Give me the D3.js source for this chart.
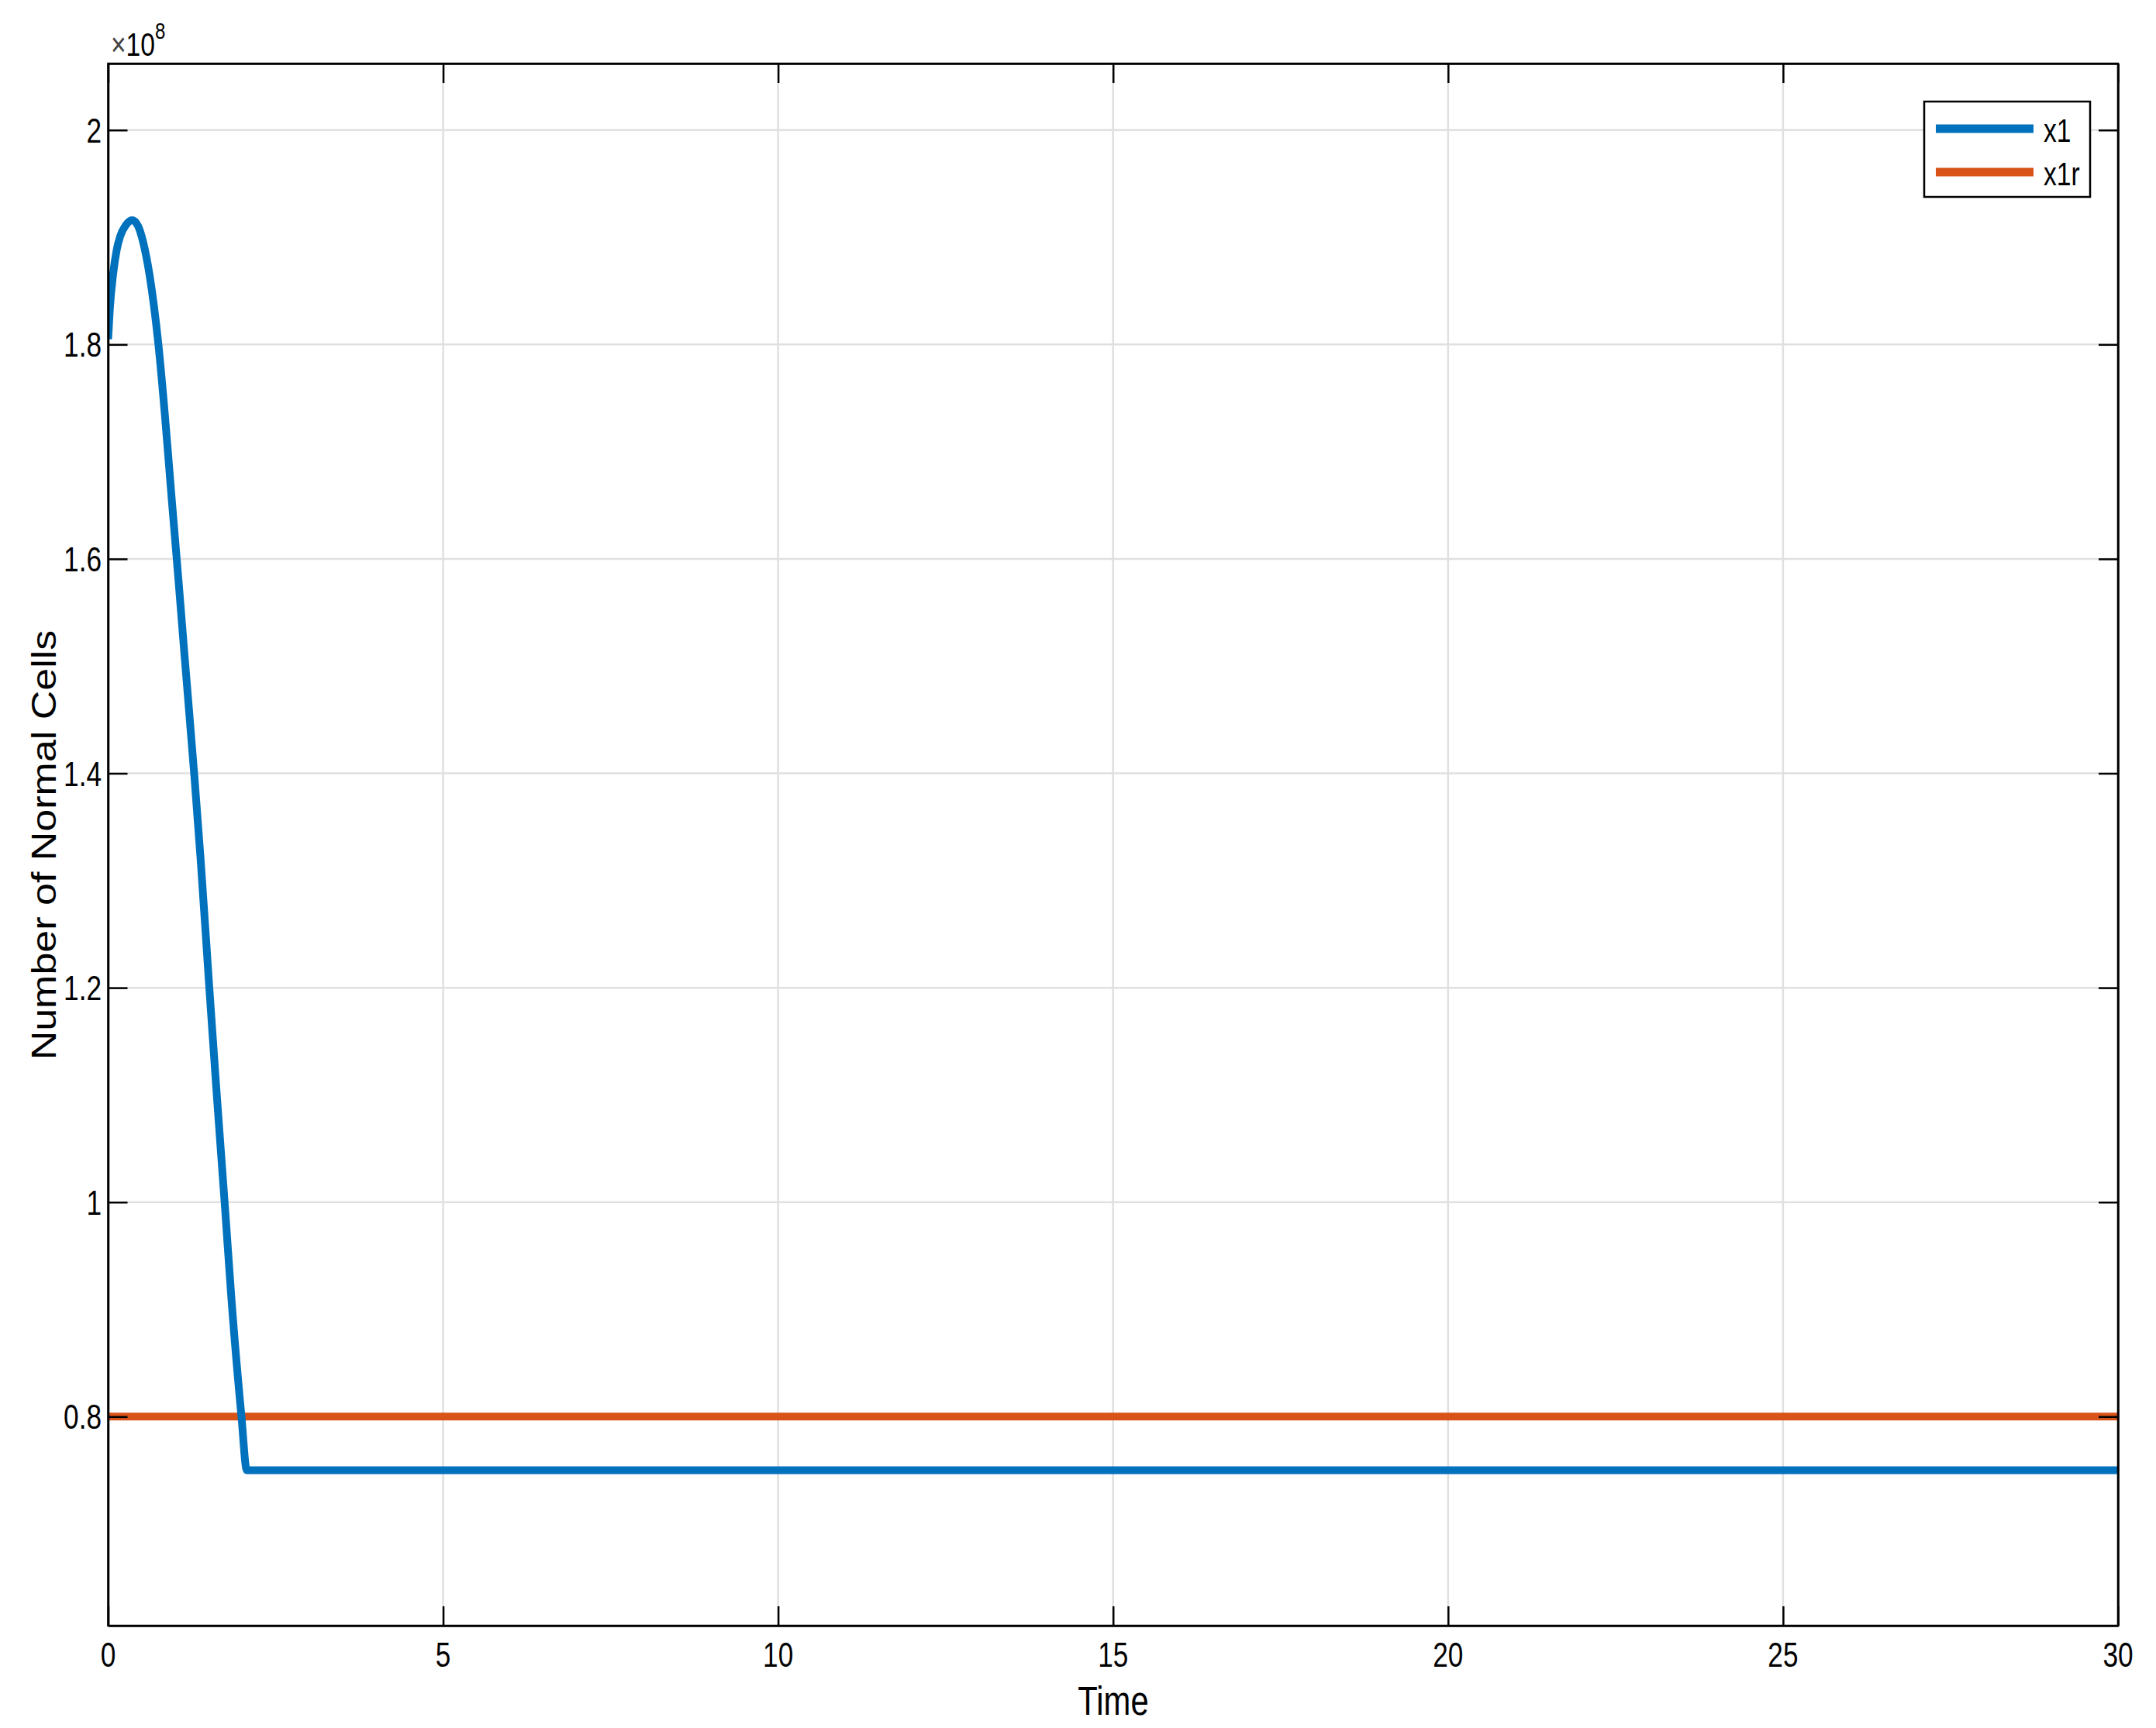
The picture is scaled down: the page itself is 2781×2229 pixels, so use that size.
<!DOCTYPE html>
<html>
<head>
<meta charset="utf-8">
<script src="https://cdn.jsdelivr.net/npm/d3@7"></script>
<style>
  html, body { margin: 0; padding: 0; background: #ffffff; }
  svg { display: block; }
  text { font-family: "Liberation Sans", Arial, Helvetica, sans-serif; fill: #000; }
</style>
</head>
<body>
<svg id="chart" width="2781" height="2229"></svg>
<script>
// ---- Data (values in units of 1e8) ----
const time = [0, 0.025, 0.075, 0.13, 0.18, 0.26, 0.36, 0.45, 0.52, 0.62, 0.75, 0.85, 0.95, 1.05, 1.14, 1.29, 1.38, 1.51, 1.61, 1.75, 1.84, 1.99, 2.07, 30];
const x1   = [1.805, 1.833, 1.866, 1.889, 1.901, 1.911, 1.916, 1.910, 1.896, 1.864, 1.80, 1.732, 1.655, 1.58, 1.51, 1.395, 1.32, 1.20, 1.11, 0.99, 0.91, 0.80, 0.75, 0.75];
const timeR = [0, 30];
const x1r   = [0.8, 0.8];
const xTicks = [0, 5, 10, 15, 20, 25, 30];
const xTickLabels = ["0", "5", "10", "15", "20", "25", "30"];
const yTicks = [0.8, 1.0, 1.2, 1.4, 1.6, 1.8, 2.0];
const yTickLabels = ["0.8", "1", "1.2", "1.4", "1.6", "1.8", "2"];
const seriesNames = ["x1", "x1r"];
const seriesColors = ["#0072BD", "#D95319"];
const xLabel = "Time";
const yLabel = "Number of Normal Cells";

// ---- Layout ----
const L = 139.5, R = 2732, T = 82, B = 2097;
const svg = d3.select("#chart");
const x = d3.scaleLinear().domain([0, 30]).range([L, R]);
const y = d3.scaleLinear().domain([0.605, 2.062]).range([B, T]);
const SX = 0.8; // horizontal text compression as in reference

// grid
const grid = svg.append("g");
grid.selectAll("line.gx").data(xTicks).enter().append("line")
  .attr("x1", d => x(d)).attr("x2", d => x(d)).attr("y1", T).attr("y2", B)
  .attr("stroke", "#e0e0e0").attr("stroke-width", 2.5);
grid.selectAll("line.gy").data(yTicks).enter().append("line")
  .attr("x1", L).attr("x2", R).attr("y1", d => y(d)).attr("y2", d => y(d))
  .attr("stroke", "#e0e0e0").attr("stroke-width", 2.5);

// clip
svg.append("clipPath").attr("id", "clip").append("rect")
  .attr("x", L).attr("y", T).attr("width", R - L).attr("height", B - T);

const lineGen = d3.line().x(d => x(d[0])).y(d => y(d[1])).curve(d3.curveMonotoneX);
const plot = svg.append("g").attr("clip-path", "url(#clip)");
plot.append("path").datum(timeR.map((t, i) => [t, x1r[i]]))
  .attr("d", lineGen).attr("fill", "none").attr("stroke", seriesColors[1]).attr("stroke-width", 10);
plot.append("path").datum(time.map((t, i) => [t, x1[i]]))
  .attr("d", lineGen).attr("fill", "none").attr("stroke", seriesColors[0]).attr("stroke-width", 10)
  .attr("stroke-linejoin", "round");

// axes (ticks inward on all four sides)
const tk = 25;
function styleAxis(g) {
  g.selectAll("path").attr("stroke", "#000").attr("stroke-width", 2.5);
  g.selectAll("line").attr("stroke", "#000").attr("stroke-width", 2.5);
  g.selectAll("text").remove();
}
svg.append("g").attr("transform", `translate(0,${B})`)
  .call(d3.axisBottom(x).tickValues(xTicks).tickSizeInner(-tk).tickSizeOuter(0)).call(styleAxis);
svg.append("g").attr("transform", `translate(0,${T})`)
  .call(d3.axisTop(x).tickValues(xTicks).tickSizeInner(-tk).tickSizeOuter(0)).call(styleAxis);
svg.append("g").attr("transform", `translate(${L},0)`)
  .call(d3.axisLeft(y).tickValues(yTicks).tickSizeInner(-tk).tickSizeOuter(0)).call(styleAxis);
svg.append("g").attr("transform", `translate(${R},0)`)
  .call(d3.axisRight(y).tickValues(yTicks).tickSizeInner(-tk).tickSizeOuter(0)).call(styleAxis);
svg.append("rect").attr("x", L).attr("y", T).attr("width", R - L).attr("height", B - T)
  .attr("fill", "none").attr("stroke", "#000").attr("stroke-width", 2.5);

// tick labels
svg.selectAll("g.xl").data(xTicks).enter().append("g")
  .attr("transform", d => `translate(${x(d)},2150) scale(${SX},1)`)
  .append("text").attr("text-anchor", "middle").attr("font-size", 44)
  .text((d, i) => xTickLabels[i]);
svg.selectAll("g.yl").data(yTicks).enter().append("g")
  .attr("transform", d => `translate(131,${y(d) + 16}) scale(${SX},1)`)
  .append("text").attr("text-anchor", "end").attr("font-size", 44)
  .text((d, i) => yTickLabels[i]);

// axis labels
svg.append("g").attr("transform", `translate(1436,2212) scale(0.82,1)`)
  .append("text").attr("text-anchor", "middle").attr("font-size", 51).text(xLabel);
svg.append("g").attr("transform", `translate(72,1090) scale(0.85,1) rotate(-90)`)
  .append("text").attr("text-anchor", "middle").attr("font-size", 52).text(yLabel);

// exponent multiplier
const ex = svg.append("g").attr("transform", `translate(143,72) scale(${SX},1)`).append("text").attr("font-size", 42);
ex.append("tspan").attr("fill", "#444").text("\u00d7");
ex.append("tspan").text("10");
ex.append("tspan").attr("dy", -22).attr("font-size", 30).text("8");

// legend
const lg = svg.append("g");
lg.append("rect").attr("x", 2482).attr("y", 131).attr("width", 214).attr("height", 123)
  .attr("fill", "#fff").attr("stroke", "#000").attr("stroke-width", 2.5);
const legY = [166, 222];
seriesNames.forEach((n, i) => {
  lg.append("line").attr("x1", 2497).attr("x2", 2623).attr("y1", legY[i]).attr("y2", legY[i])
    .attr("stroke", seriesColors[i]).attr("stroke-width", 11);
  lg.append("g").attr("transform", `translate(2636,${legY[i] + 17}) scale(${SX},1)`)
    .append("text").attr("font-size", 42).text(n);
});
</script>
</body>
</html>
